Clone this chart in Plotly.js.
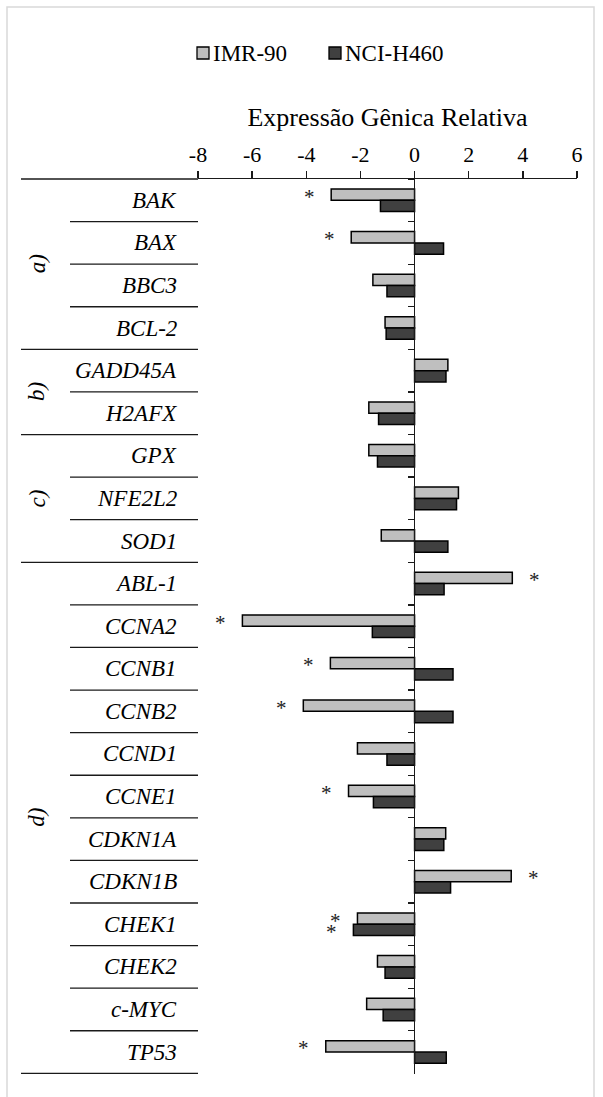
<!DOCTYPE html>
<html>
<head>
<meta charset="utf-8">
<script src="https://cdn.plot.ly/plotly-3.0.1.min.js"></script>
<style>html,body{margin:0;padding:0;background:#fff;}#chart{width:603px;height:1097px;}</style>
</head>
<body>
<div id="chart"></div>
<script>
// ---- data ----
const genes = ['BAK','BAX','BBC3','BCL-2','GADD45A','H2AFX','GPX','NFE2L2','SOD1','ABL-1','CCNA2','CCNB1','CCNB2','CCND1','CCNE1','CDKN1A','CDKN1B','CHEK1','CHEK2','c-MYC','TP53'];
const imr90   = [-3.08,-2.34,-1.54,-1.09,1.23,-1.69,-1.69,1.62,-1.23,3.61,-6.36,-3.11,-4.11,-2.11,-2.44,1.15,3.57,-2.11,-1.37,-1.77,-3.28];
const nciH460 = [-1.26,1.07,-1.02,-1.05,1.16,-1.33,-1.37,1.55,1.23,1.09,-1.56,1.42,1.42,-1.02,-1.52,1.08,1.33,-2.26,-1.09,-1.16,1.17];
const sigIMR  = [1,1,0,0,0,0,0,0,0,1,1,1,1,0,1,0,1,1,0,0,1];
const sigNCI  = [0,0,0,0,0,0,0,0,0,0,0,0,0,0,0,0,0,1,0,0,0];
const groupLabels = ['a)','b)','c)','d)'];
const groupSizes  = [4,2,3,12];
const seriesNames = ['IMR-90','NCI-H460'];
const seriesColors = ['#bfbfbf','#404040'];
const tickVals = [-8,-6,-4,-2,0,2,4,6];
const tickText = ['-8','-6','-4','-2','0','2','4','6'];
const axisTitle = 'Expressão Gênica Relativa';

// ---- layout constants ----
const W = 603, H = 1097;
const M = {l:198, r:26, t:179, b:23};
const plotW = W - M.l - M.r, plotH = H - M.t - M.b;
const px2x = p => (p - M.l) / plotW;       // container px -> paper x
const py2y = p => 1 - (p - M.t) / plotH;    // container px -> paper y
const FONT = 'Liberation Serif';

const traces = seriesNames.map((n, k) => ({type:'bar', orientation:'h', name:n, y:genes,
  x: k === 0 ? imr90 : nciH460, showlegend:false,
  marker:{color:seriesColors[k], line:{color:'#000', width:1.5}}}));

const shapes = [];
const annotations = [];
const lineC = '#1a1a1a';
// chart border
shapes.push({type:'rect', xref:'paper', yref:'paper', x0:px2x(7), x1:px2x(594), y0:py2y(1100), y1:py2y(7),
  line:{color:'#d9d9d9', width:1.5}, fillcolor:'rgba(0,0,0,0)', layer:'below'});
// top line extension into label area
shapes.push({type:'line', xref:'paper', yref:'paper', x0:px2x(21), x1:0, y0:1, y1:1, line:{color:lineC, width:1.3}});
// separators
const groupStarts = [];
let acc = 0;
groupSizes.forEach(s => { groupStarts.push(acc); acc += s; });
for (let i = 1; i <= genes.length; i++) {
  const isGroup = groupStarts.includes(i) || i === genes.length;
  shapes.push({type:'line', xref:'paper', yref:'y', x0:px2x(isGroup ? 21 : 70), x1:0,
    y0:i - 0.5, y1:i - 0.5, line:{color:lineC, width:1.3}});
}
// legend (drawn manually for tight symbol/text spacing)
const legendX = [197, 329];
seriesNames.forEach((n, k) => {
  shapes.push({type:'rect', xref:'paper', yref:'paper', x0:px2x(legendX[k]), x1:px2x(legendX[k] + 12),
    y0:py2y(59), y1:py2y(47), fillcolor:seriesColors[k], line:{color:'#000', width:1.3}});
  annotations.push({xref:'paper', yref:'paper', x:px2x(legendX[k] + 14), y:py2y(53), xanchor:'left', yanchor:'middle',
    text:n, showarrow:false, font:{size:23, family:FONT, color:'#000'}});
});
// gene labels
genes.forEach(g => annotations.push({xref:'paper', yref:'y', x:px2x(179), y:g, xanchor:'right', yanchor:'middle',
  text:'<i>' + g + '</i>', showarrow:false, font:{size:23, family:FONT, color:'#000'}}));
// group labels
groupLabels.forEach((lab, k) => annotations.push({xref:'paper', yref:'y', x:px2x(37),
  y:groupStarts[k] + (groupSizes[k] - 1) / 2, text:'<i>' + lab + '</i>', textangle:-90, showarrow:false,
  xanchor:'center', yanchor:'middle', font:{size:23, family:FONT, color:'#000'}}));
// significance asterisks
function star(val, g, up) {
  annotations.push({xref:'x', yref:'y', x:val, y:g, text:'*', showarrow:false,
    xanchor:'center', yanchor:'middle', xshift: val < 0 ? -22 : 22, yshift: up ? 3.6 : -7.6,
    font:{size:21, family:FONT, color:'#222'}});
}
genes.forEach((g, i) => {
  if (sigIMR[i]) star(imr90[i], g, true);
  if (sigNCI[i]) star(nciH460[i], g, false);
});

const layout = {
  width:W, height:H, margin:M, paper_bgcolor:'#fff', plot_bgcolor:'#fff',
  font:{family:FONT, size:22, color:'#000'},
  barmode:'group', bargap:0.47, bargroupgap:0,
  showlegend:false,
  xaxis:{side:'top', range:[-8,6], tickvals:tickVals, ticktext:tickText, ticks:'outside', ticklen:7,
    tickwidth:1.3, tickcolor:lineC, showline:true, linecolor:lineC, linewidth:1.3, showgrid:false, zeroline:false,
    tickfont:{size:22, family:FONT}, title:{text:axisTitle, font:{size:26, family:FONT}, standoff:7}},
  yaxis:{type:'category', autorange:'reversed', anchor:'free', position:px2x(414), showline:true, linecolor:lineC,
    linewidth:1.3, ticks:'outside', tickson:'boundaries', ticklen:6, tickwidth:1.3, tickcolor:lineC,
    showticklabels:false, showgrid:false, zeroline:false},
  shapes:shapes, annotations:annotations
};
Plotly.newPlot('chart', traces, layout, {displayModeBar:false, staticPlot:true});
</script>
</body>
</html>
